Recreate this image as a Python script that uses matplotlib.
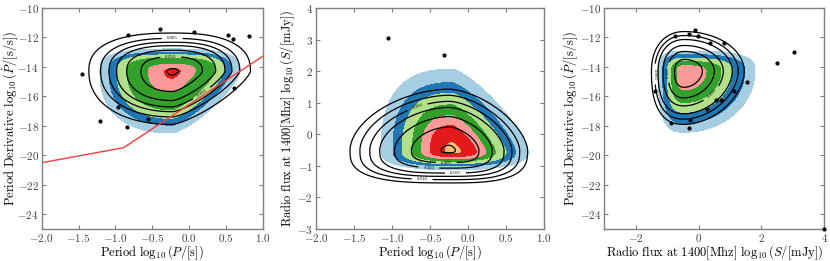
import numpy as np
import matplotlib
matplotlib.use("Agg")
import matplotlib.pyplot as plt
from matplotlib.ticker import FuncFormatter

plt.rcParams.update({
    "font.family": "serif",
    "font.serif": ["Liberation Serif", "DejaVu Serif"],
    "mathtext.fontset": "cm",
    "axes.edgecolor": "0.5",
    "axes.linewidth": 1.0,
})

# ── colours of the filled density bands, outer -> inner ──────────────────
BAND_COLORS = ["#a6cee3", "#1f78b4", "#b2df8a", "#33a02c", "#fb9a99", "#e31a1c", "#fdbf6f"]

# contour outlines: centre, extent of the outermost level (left, right, down, up),
# shape power per quadrant (left-down, right-down, left-up, right-up) and the
# relative size of every level (outer -> inner)

# ── panel 1 : log P vs log Pdot ─────────────────────────────────────────
p1_fill_center = (-0.22, -14.3)
p1_fill_sigma  = (0.99, 0.91, 4.18, 1.52)
p1_fill_power  = (2.4, 1.3, 3.0, 3.0)
p1_fill_levels = [1.0, 0.89, 0.78, 0.64, 0.35, 0.13]
p1_line_center = (-0.22, -14.3)
p1_line_sigma  = (1.14, 1.05, 3.6, 2.6)
p1_line_power  = (2.2, 1.3, 2.5, 2.5)
p1_line_levels = [1.0, 0.86, 0.76, 0.67, 0.55, 0.38, 0.07]
p1_line_labels = ["", "0.005", "", "0.050", "", "0.250", ""]
p1_pts_x = [-0.83, -0.40, 0.06, 0.52, 0.59, 0.81, -1.45, 0.61, -0.97, -1.21, -0.84, -0.56]
p1_pts_y = [-11.8, -11.4, -11.6, -11.8, -12.1, -11.9, -14.5, -15.4, -16.7, -17.7, -18.1, -17.5]
deathline_x = [-2.0, -0.89, 1.0]
deathline_y = [-20.5, -19.48, -13.26]

# ── panel 2 : log P vs log S1400 ────────────────────────────────────────
p2_fill_center = (-0.2, -0.55)
p2_fill_sigma  = (0.94, 0.99, 0.57, 2.61)
p2_fill_power  = (2.5, 2.5, 2.6, 1.3)
p2_fill_levels = [1.0, 0.85, 0.72, 0.58, 0.45, 0.33, 0.12]
p2_line_center = (-0.25, -0.5)
p2_line_sigma  = (1.3, 1.03, 1.04, 1.93)
p2_line_power  = (3.0, 3.0, 1.8, 1.6)
p2_line_levels = [1.0, 0.9, 0.8, 0.7, 0.55, 0.38, 0.08]
p2_line_labels = ["", "0.010", "0.050", "0.100", "0.300", "0.500", ""]
p2_pts_x = [-1.05, -0.31]
p2_pts_y = [3.05, 2.5]

# ── panel 3 : log S1400 vs log Pdot ─────────────────────────────────────
p3_fill_center = (-0.45, -14.3)
p3_fill_sigma  = (0.83, 2.24, 4.13, 1.38)
p3_fill_power  = (3.0, 2.0, 3.0, 3.0)
p3_fill_levels = [1.0, 0.87, 0.69, 0.53, 0.32]
p3_line_center = (-0.45, -14.3)
p3_line_sigma  = (1.05, 1.9, 3.6, 2.7)
p3_line_power  = (2.5, 1.8, 2.2, 2.0)
p3_line_levels = [1.0, 0.9, 0.8, 0.65, 0.5, 0.3]
p3_line_labels = ["", "0.005", "", "0.050", "0.500", ""]
p3_pts_x = [-0.76, -0.32, -0.10, -0.03, 0.37, 0.82, 3.04, 2.49, 1.55, 1.11, -1.40,
            0.56, 0.70, 0.28, -0.87, -0.29, -0.30, 4.0]
p3_pts_y = [-11.87, -11.73, -11.46, -11.89, -12.36, -12.40, -12.99, -13.75, -15.01, -15.66,
            -15.66, -16.22, -16.22, -16.83, -17.78, -17.6, -18.16, -25.0]

XLAB_P    = r"$\mathrm{Period}\ \log_{10}(P/[\mathrm{s}])$"
XLAB_S    = r"$\mathrm{Radio\ flux\ at\ 1400[Mhz]}\ \log_{10}(S/[\mathrm{mJy}])$"
YLAB_PDOT = r"$\mathrm{Period\ Derivative}\ \log_{10}(\dot{P}/[\mathrm{s/s}])$"
YLAB_S    = XLAB_S


def rfield(X, Y, center, sigma, power):
    u = X - center[0]
    v = Y - center[1]
    su = np.where(u < 0, sigma[0], sigma[1])
    sv = np.where(v < 0, sigma[2], sigma[3])
    p = np.where(v < 0, np.where(u < 0, power[0], power[1]),
                 np.where(u < 0, power[2], power[3]))
    return (np.abs(u / su) ** p + np.abs(v / sv) ** p) ** (1.0 / p)


def tick_fmt(dec):
    return FuncFormatter(lambda v, _: "$%.*f$" % (dec, v) if abs(v) > 1e-9 else "$%.*f$" % (dec, 0.0))


def draw_panel(ax, xlim, ylim, fill, line, labels, px, py):
    X, Y = np.meshgrid(np.linspace(*xlim, 500), np.linspace(*ylim, 500))
    fc, fs, fp, fl = fill
    R = rfield(X, Y, fc, fs, fp)
    ax.contourf(X, Y, R, levels=[0] + sorted(fl), colors=BAND_COLORS[:len(fl)][::-1])
    lc, ls, lp, ll = line
    R2 = rfield(X, Y, lc, ls, lp)
    cs = ax.contour(X, Y, R2, levels=sorted(ll), colors="k", linewidths=0.9)
    fmt = {l: t for l, t in zip(ll, labels)}
    show = [l for l, t in zip(ll, labels) if t]
    ax.clabel(cs, levels=sorted(show), fmt=fmt, fontsize=3.5, inline=True)
    ax.scatter(px, py, s=4, color="k", zorder=5, clip_on=False)
    ax.set_xlim(*xlim)
    ax.set_ylim(*ylim)
    ax.tick_params(direction="in", labelsize=8, length=3, top=True, right=True,
                   color="0.5", labelcolor="0.25", pad=2)


fig = plt.figure(figsize=(8.3, 2.61), dpi=100)
ax1 = fig.add_axes([0.0502, 0.1226, 0.2667, 0.8467])
ax2 = fig.add_axes([0.3804, 0.1226, 0.2754, 0.8467])
ax3 = fig.add_axes([0.7281, 0.1226, 0.2651, 0.8467])

LABEL_SIZE = 9.0

draw_panel(ax1, (-2, 1), (-25, -10),
           (p1_fill_center, p1_fill_sigma, p1_fill_power, p1_fill_levels),
           (p1_line_center, p1_line_sigma, p1_line_power, p1_line_levels),
           p1_line_labels, p1_pts_x, p1_pts_y)
ax1.plot(deathline_x, deathline_y, color="#ff3b3b", lw=1.0)
ax1.set_xticks(np.arange(-2, 1.01, 0.5))
ax1.set_yticks(np.arange(-24, -9, 2))
ax1.xaxis.set_major_formatter(tick_fmt(1))
ax1.yaxis.set_major_formatter(tick_fmt(0))
ax1.set_xlabel(XLAB_P, fontsize=LABEL_SIZE, labelpad=0)
ax1.set_ylabel(YLAB_PDOT, fontsize=LABEL_SIZE, labelpad=-1.5)

draw_panel(ax2, (-2, 1), (-3, 4),
           (p2_fill_center, p2_fill_sigma, p2_fill_power, p2_fill_levels),
           (p2_line_center, p2_line_sigma, p2_line_power, p2_line_levels),
           p2_line_labels, p2_pts_x, p2_pts_y)
ax2.set_xticks(np.arange(-2, 1.01, 0.5))
ax2.xaxis.set_major_formatter(tick_fmt(1))
ax2.yaxis.set_major_formatter(tick_fmt(0))
ax2.set_xlabel(XLAB_P, fontsize=LABEL_SIZE, labelpad=0)
ax2.set_ylabel(YLAB_S, fontsize=LABEL_SIZE, labelpad=0)

draw_panel(ax3, (-3, 4), (-25, -10),
           (p3_fill_center, p3_fill_sigma, p3_fill_power, p3_fill_levels),
           (p3_line_center, p3_line_sigma, p3_line_power, p3_line_levels),
           p3_line_labels, p3_pts_x, p3_pts_y)
ax3.set_yticks(np.arange(-24, -9, 2))
ax3.xaxis.set_major_formatter(tick_fmt(0))
ax3.yaxis.set_major_formatter(tick_fmt(0))
ax3.set_xlabel(XLAB_S, fontsize=LABEL_SIZE, labelpad=0)
ax3.set_ylabel(YLAB_PDOT, fontsize=LABEL_SIZE, labelpad=0)

fig.savefig("out.png", dpi=100)
